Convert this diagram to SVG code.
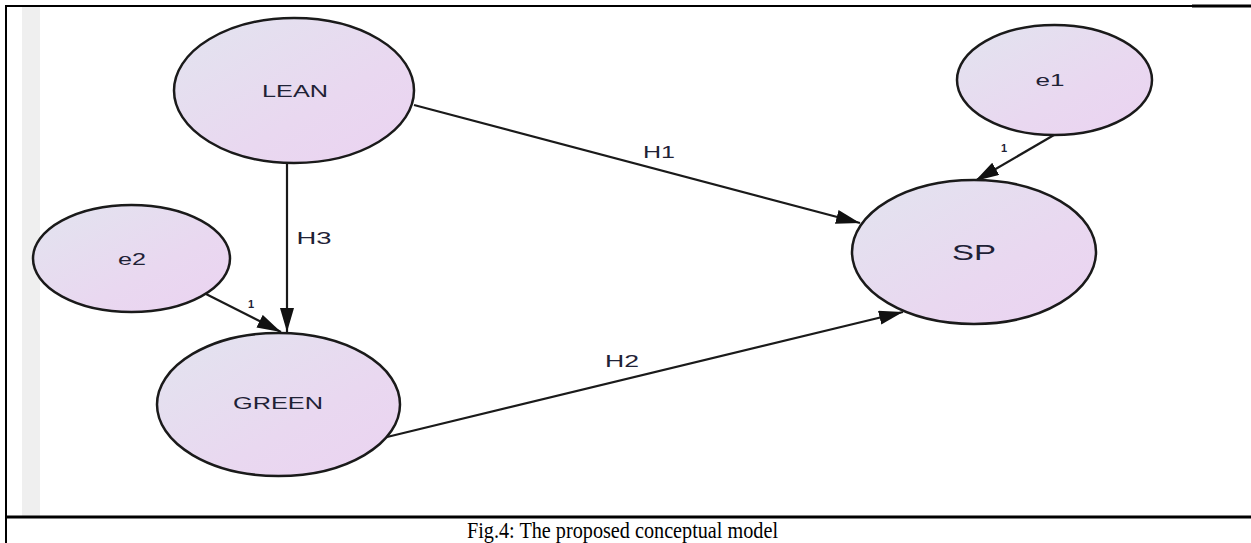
<svg xmlns="http://www.w3.org/2000/svg" width="1251" height="543" viewBox="0 0 1251 543">
  <defs>
    <linearGradient id="nodeFill" x1="0" y1="0" x2="1" y2="1">
      <stop offset="0" stop-color="#e2e4ef"/>
      <stop offset="0.6" stop-color="#e9d8f0"/>
      <stop offset="1" stop-color="#ebd3f1"/>
    </linearGradient>
    <marker id="arrow" markerUnits="userSpaceOnUse" markerWidth="26" markerHeight="16" refX="24" refY="7" orient="auto">
      <path d="M0,0 L24,7 L0,14 z" fill="#111"/>
    </marker>
    <style>
      .node { fill: url(#nodeFill); stroke: #1a1a1a; stroke-width: 2.5; }
      .lbl { font-family: "Liberation Sans", Arial, sans-serif; fill: #1f2236; text-anchor: middle; dominant-baseline: central; }
      .edge { stroke: #1a1a1a; stroke-width: 2.2; fill: none; marker-end: url(#arrow); }
      .elbl { font-family: "Liberation Sans", Arial, sans-serif; fill: #1f2236; text-anchor: middle; dominant-baseline: central; }
      .frame { stroke: #000; fill: none; }
      .caption { font-family: "Liberation Serif", "Times New Roman", serif; fill: #000; font-size: 23px; }
    </style>
  </defs>

  <rect x="0" y="0" width="1251" height="543" fill="#ffffff"/>
  <rect x="22" y="7" width="18" height="509" fill="#efefef"/>

  <g id="frame">
    <line class="frame" x1="6" y1="6" x2="1192" y2="6" stroke-width="2"/>
    <line class="frame" x1="1192" y1="6" x2="1251" y2="6" stroke-width="3"/>
    <line class="frame" x1="6" y1="5" x2="6" y2="543" stroke-width="2"/>
    <line class="frame" x1="5" y1="517" x2="1251" y2="517" stroke-width="3"/>
  </g>

  <g id="connectors">
    <line class="edge" x1="414" y1="105" x2="860" y2="223"/>
    <line class="edge" x1="387" y1="437" x2="903" y2="312"/>
    <line class="edge" x1="287" y1="163" x2="287" y2="332"/>
    <line class="edge" x1="206" y1="294" x2="281" y2="332"/>
    <line class="edge" x1="1054" y1="135" x2="975" y2="181"/>
    <text class="elbl" x="659" y="152" font-size="17" textLength="32" lengthAdjust="spacingAndGlyphs">H1</text>
    <text class="elbl" x="622" y="361" font-size="17" textLength="34" lengthAdjust="spacingAndGlyphs">H2</text>
    <text class="elbl" x="314" y="238" font-size="17" textLength="35" lengthAdjust="spacingAndGlyphs">H3</text>
    <text class="elbl" x="251" y="304" font-size="11" font-weight="bold">1</text>
    <text class="elbl" x="1004" y="148" font-size="11" font-weight="bold">1</text>
  </g>

  <g id="node-lean">
    <ellipse class="node" cx="294" cy="90.5" rx="120" ry="72.5"/>
    <text class="lbl" x="295" y="91" font-size="17" textLength="66" lengthAdjust="spacingAndGlyphs">LEAN</text>
  </g>
  <g id="node-e1">
    <ellipse class="node" cx="1054.5" cy="80" rx="97.5" ry="55"/>
    <text class="lbl" x="1050" y="80" font-size="17" textLength="29" lengthAdjust="spacingAndGlyphs">e1</text>
  </g>
  <g id="node-e2">
    <ellipse class="node" cx="131.5" cy="258.5" rx="98.5" ry="53.5"/>
    <text class="lbl" x="132" y="259" font-size="17" textLength="28" lengthAdjust="spacingAndGlyphs">e2</text>
  </g>
  <g id="node-sp">
    <ellipse class="node" cx="974" cy="252" rx="122" ry="72"/>
    <text class="lbl" x="974" y="252" font-size="22" textLength="44" lengthAdjust="spacingAndGlyphs">SP</text>
  </g>
  <g id="node-green">
    <ellipse class="node" cx="278.5" cy="404.5" rx="121.5" ry="71.5"/>
    <text class="lbl" x="278" y="403" font-size="16" textLength="90" lengthAdjust="spacingAndGlyphs">GREEN</text>
  </g>

  <text class="caption" x="467" y="538" textLength="311" lengthAdjust="spacingAndGlyphs">Fig.4: The proposed conceptual model</text>
</svg>
